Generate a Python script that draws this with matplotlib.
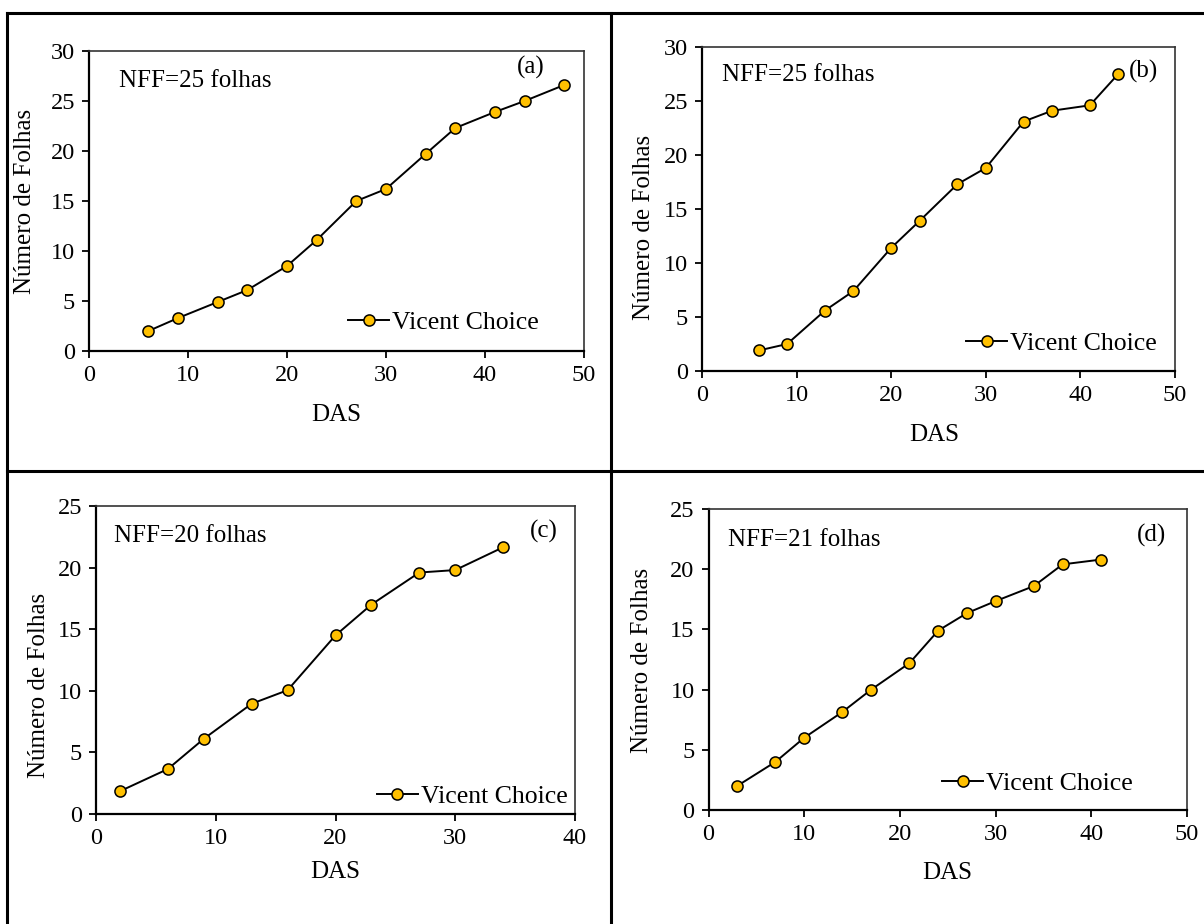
import matplotlib
matplotlib.use("Agg")
import matplotlib.pyplot as plt
from matplotlib.lines import Line2D

plt.rcParams['font.family'] = ['Liberation Serif', 'DejaVu Serif']

# ---- data ----
das_a = [6, 9, 13, 16, 20, 23, 27, 30, 34, 37, 41, 44, 48]
nf_a = [2.0, 3.3, 4.9, 6.1, 8.5, 11.1, 15.0, 16.2, 19.7, 22.3, 23.9, 25.0, 26.6]

das_b = [6, 9, 13, 16, 20, 23, 27, 30, 34, 37, 41, 44]
nf_b = [1.9, 2.5, 5.6, 7.4, 11.4, 13.9, 17.3, 18.8, 23.1, 24.1, 24.6, 27.5]

das_c = [2, 6, 9, 13, 16, 20, 23, 27, 30, 34]
nf_c = [1.85, 3.65, 6.1, 8.95, 10.05, 14.5, 17.0, 19.6, 19.8, 21.65]

das_d = [3, 7, 10, 14, 17, 21, 24, 27, 30, 34, 37, 41]
nf_d = [2.0, 4.0, 6.0, 8.15, 10.0, 12.2, 14.9, 16.35, 17.35, 18.6, 20.4, 20.8]

series_name = "Vicent Choice"
nff_labels = ["NFF=25 folhas", "NFF=25 folhas", "NFF=20 folhas", "NFF=21 folhas"]
panel_tags = ["(a)", "(b)", "(c)", "(d)"]
xmax = [50, 50, 40, 50]
ymax = [30, 30, 25, 25]

W, H = 1204, 924
fig = plt.figure(figsize=(W / 100, H / 100), dpi=100)

# axes rectangles in pixels: left, right, top, bottom
rects = [(89, 584, 51, 351), (702, 1175, 47, 371), (96, 575, 506, 814), (708.5, 1187, 509, 810)]
nff_pos = [(0.06, 0.90), (0.042, 0.914), (0.037, 0.903), (0.041, 0.897)]
tag_pos = [(0.893, 0.946), (0.934, 0.924), (0.934, 0.917), (0.925, 0.911)]
leg_pos = [(0.909, 0.094), (0.962, 0.086), (0.985, 0.056), (0.887, 0.089)]
ylab_pos = [(-0.129, 0.498), (-0.123, 0.444), (-0.119, 0.416), (-0.139, 0.498)]
xlab_pos = [(0.5, -0.214), (0.49, -0.198), (0.5, -0.187), (0.498, -0.209)]

data = [(das_a, nf_a), (das_b, nf_b), (das_c, nf_c), (das_d, nf_d)]

for i, ((l, r, t, b), (xs, ys)) in enumerate(zip(rects, data)):
    ax = fig.add_axes([l / W, 1 - b / H, (r - l) / W, (b - t) / H])
    ax.plot(xs, ys, color='black', lw=1.4, marker='o', markersize=8,
            markerfacecolor='#FFC000', markeredgecolor='black', markeredgewidth=1.1,
            label=series_name, clip_on=False, zorder=3)
    ax.set_xlim(0, xmax[i])
    ax.set_ylim(0, ymax[i])
    ax.set_xticks(range(0, xmax[i] + 1, 10))
    ax.set_yticks(range(0, ymax[i] + 1, 5))
    ax.tick_params(direction='out', length=5, width=1.3, labelsize=17.5, pad=5, color='black')
    for s in ['left', 'bottom']:
        ax.spines[s].set_linewidth(1.6)
        ax.spines[s].set_color('black')
    for s in ['top', 'right']:
        ax.spines[s].set_linewidth(1.2)
        ax.spines[s].set_color('#333333')
    ax.set_ylabel("Número de Folhas", fontsize=18)
    ax.yaxis.set_label_coords(*ylab_pos[i])
    ax.set_xlabel("DAS", fontsize=18)
    ax.xaxis.set_label_coords(*xlab_pos[i])
    ax.xaxis.label.set_va('center')
    ax.yaxis.label.set_va('center')
    ax.text(nff_pos[i][0], nff_pos[i][1], nff_labels[i], transform=ax.transAxes,
            fontsize=18, ha='left', va='center')
    ax.text(tag_pos[i][0], tag_pos[i][1], panel_tags[i], transform=ax.transAxes,
            fontsize=18, ha='center', va='center')
    ax.legend(loc='center right', bbox_to_anchor=leg_pos[i], frameon=False,
              fontsize=18.5, handlelength=1.6, handletextpad=0.12,
              borderpad=0, borderaxespad=0)

# table borders
lw_b = 2.2
fig.add_artist(Line2D([7 / W, 7 / W], [0, 1 - 13 / H], transform=fig.transFigure, color='black', lw=lw_b))
fig.add_artist(Line2D([7 / W, 1], [1 - 13 / H, 1 - 13 / H], transform=fig.transFigure, color='black', lw=lw_b))
fig.add_artist(Line2D([611 / W, 611 / W], [0, 1 - 13 / H], transform=fig.transFigure, color='black', lw=lw_b))
fig.add_artist(Line2D([7 / W, 1], [1 - 471 / H, 1 - 471 / H], transform=fig.transFigure, color='black', lw=lw_b))

fig.savefig("out.png", dpi=100)
